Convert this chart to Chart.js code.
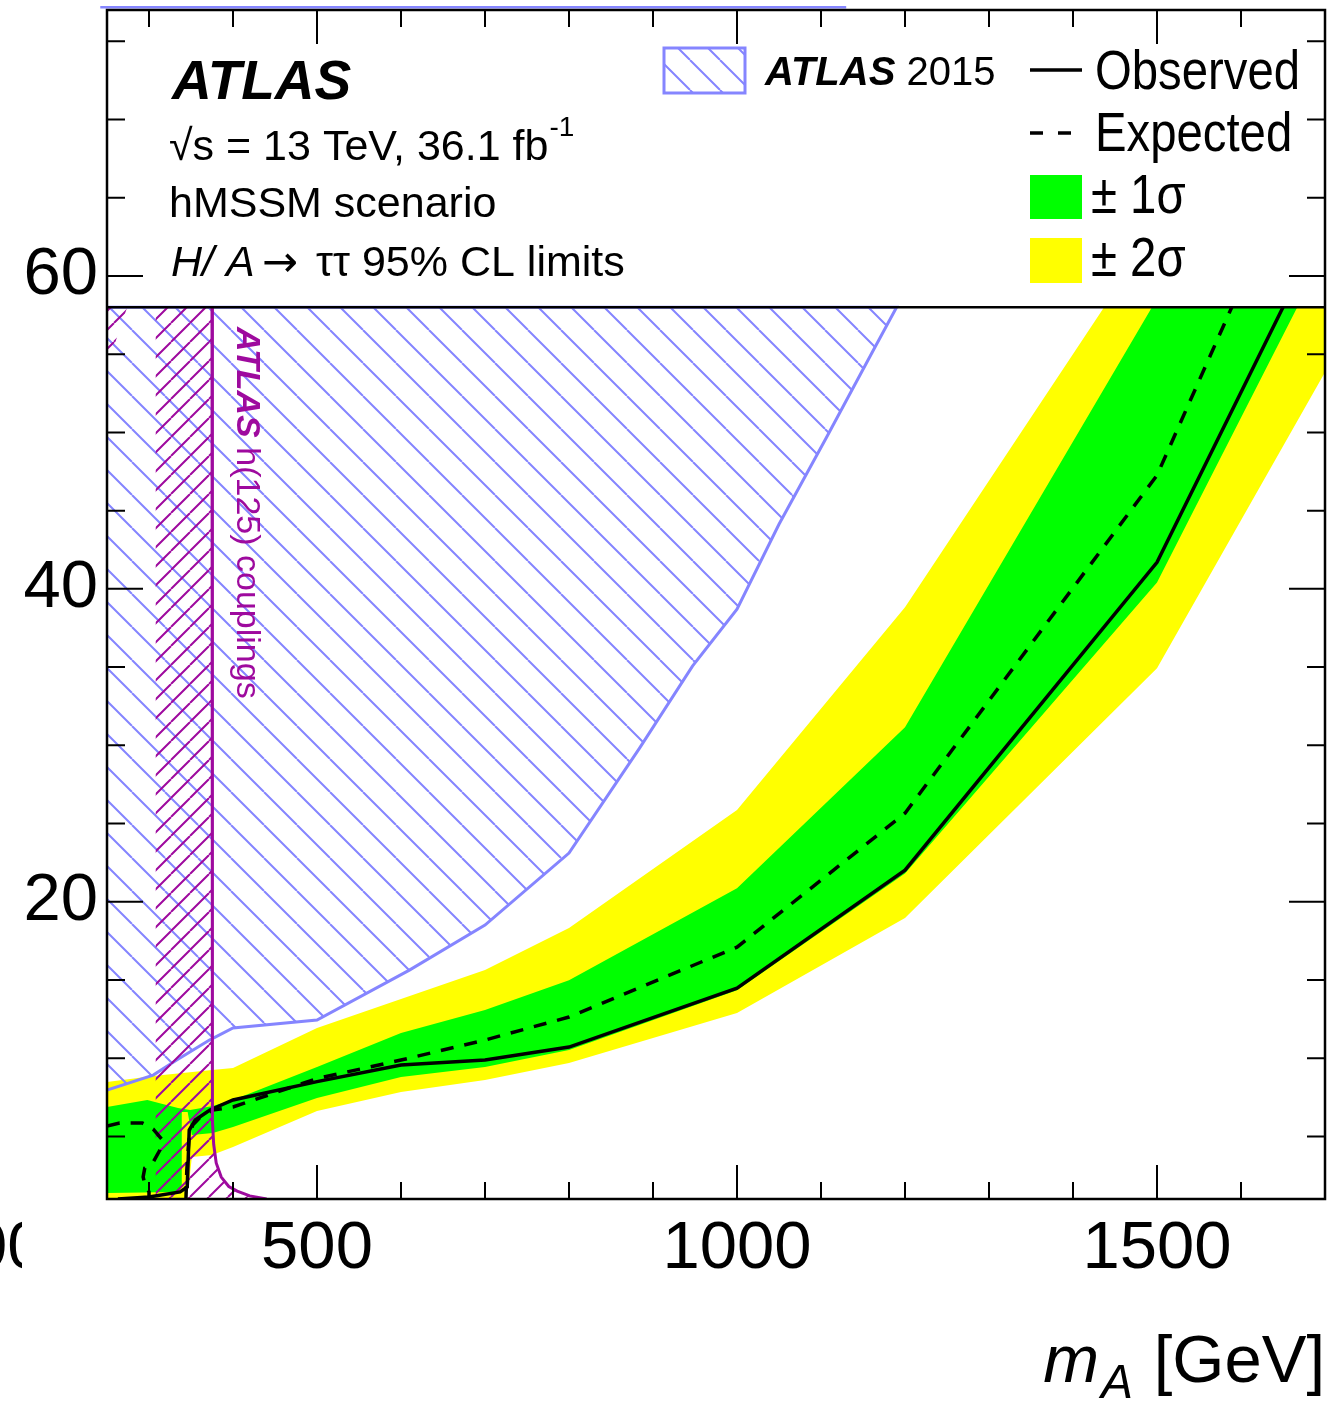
<!DOCTYPE html>
<html>
<head>
<meta charset="utf-8">
<script src="https://cdn.jsdelivr.net/npm/chart.js@4.4.1/dist/chart.umd.min.js"></script>
<style>
  html, body { margin: 0; padding: 0; background: #fff; }
  canvas { display: block; }
</style>
</head>
<body>
<canvas id="myChart" width="1332" height="1401"></canvas>
<script>
// axis ticks
var xTickValues = [300, 400, 500, 600, 700, 800, 900, 1000, 1100, 1200, 1300, 1400, 1500, 1600, 1700];
var xMajor = [500, 1000, 1500];
var yTickValues = [5, 10, 15, 20, 25, 30, 35, 40, 45, 50, 55, 60, 65, 70, 75];
var yMajor = [20, 40, 60];

// observed limit (mA, tan beta)
var observedMass = [263, 300, 337, 345.5, 347.9, 355, 372.5, 400, 500, 600, 700, 800, 1000, 1200, 1500, 1650];
var observedTanb = [1.0, 1.13, 1.45, 1.77, 5.41, 6.05, 6.69, 7.33, 8.5, 9.56, 9.88, 10.71, 14.48, 22.02, 41.7, 58];

// expected limit, low-mass island and main contour
var expectedLowMass = [250, 265, 292, 305, 315, 313, 305, 295, 293, 295, 300, 300];
var expectedLowTanb = [5.66, 5.86, 5.86, 5.47, 4.83, 4.13, 3.36, 2.98, 2.41, 1.96, 1.45, 1.0];
var expectedMass = [344, 345, 347.5, 352, 360, 376, 400, 500, 600, 700, 800, 1000, 1200, 1500, 1589];
var expectedTanb = [1.0, 2.85, 4.77, 5.73, 6.18, 6.69, 6.88, 8.7, 9.88, 11.16, 12.63, 17.1, 25.66, 47.26, 58];

// +-1 sigma band outline
var oneSigmaMass = [250, 298, 334.5, 349, 376, 400, 500, 600, 700, 800, 1000, 1200, 1494, 1667,
                    1500, 1200, 1000, 800, 700, 600, 500, 400, 376, 351, 346, 339, 339, 334.5, 250];
var oneSigmaTanb = [6.88, 7.33, 6.81, 6.69, 6.94, 7.33, 9.43, 11.61, 13.08, 14.99, 20.87, 31.16, 58, 58,
                    40.4, 21.8, 14.35, 10.52, 9.43, 8.8, 7.45, 5.6, 5.22, 5.09, 6.56, 6.56, 1.89, 1.45, 1.38];

// +-2 sigma band outline
var twoSigmaMass = [250, 305, 375, 400, 500, 600, 700, 800, 1000, 1200, 1437, 1700,
                    1700, 1500, 1200, 1000, 800, 700, 600, 500, 400, 375, 351, 347.5, 344, 250];
var twoSigmaTanb = [8.48, 8.86, 9.24, 9.37, 11.93, 13.78, 15.63, 18.32, 25.86, 38.83, 58, 58,
                    53.84, 34.93, 18.96, 12.89, 9.69, 8.6, 7.84, 6.62, 4.32, 3.81, 3.68, 1.9, 1.0, 1.0];

// ATLAS 2015 excluded region
var run2015Mass = [250, 305, 333, 372, 400, 500, 610, 700, 800, 884, 947, 1000, 1050, 1106, 1161, 1190, 250];
var run2015Tanb = [7.96, 8.92, 9.88, 11.16, 11.93, 12.44, 15.63, 18.51, 23.11, 29.82, 35.06, 38.7, 44.13, 49.63, 55.12, 58, 58];
var run2015TopMass = [242, 1130];
var run2015TopTanb = [77.17, 77.17];

// h(125) couplings excluded region
var hcoupMass = [308, 375, 375.5, 377, 380, 386, 395, 405, 420, 440, 308];
var hcoupTanb = [58, 58, 6, 4.5, 3.3, 2.4, 1.8, 1.5, 1.2, 1.0, 1.0];
var hcoupCornerMass = [250, 274, 250];
var hcoupCornerTanb = [58, 58, 54.2];
var hcoupLineMass = [375, 375.5, 377, 380, 386, 395, 405, 420, 440];
var hcoupLineTanb = [58, 6, 4.5, 3.3, 2.4, 1.8, 1.5, 1.2, 1.0];

var FONT = "'Liberation Sans', Arial, sans-serif";
var BLUE = "#8585ff";
var PURPLE = "#9e0a9e";

function pts(xs, ys) {
  return xs.map(function (x, i) { return { x: x, y: ys[i] }; });
}

// diagonal hatch pattern, back = "\" direction
function hatch(color, size, lw, back) {
  var c = document.createElement("canvas");
  c.width = size;
  c.height = size;
  var g = c.getContext("2d");
  g.strokeStyle = color;
  g.lineWidth = lw;
  g.beginPath();
  for (var k = -1; k <= 1; k++) {
    if (back) {
      g.moveTo(k * size, 0);
      g.lineTo(k * size + size, size);
    } else {
      g.moveTo(k * size, size);
      g.lineTo(k * size + size, 0);
    }
  }
  g.stroke();
  return document.getElementById("myChart").getContext("2d").createPattern(c, "repeat");
}

var blueHatch = hatch(BLUE, 33, 2, true);
var purpleHatch = hatch(PURPLE, 19, 2, false);

function shape(xs, ys, fillStyle, order) {
  return {
    data: pts(xs, ys),
    backgroundColor: fillStyle,
    borderWidth: 0,
    fill: "shape",
    pointRadius: 0,
    tension: 0,
    order: order,
  };
}

function curve(xs, ys, color, width, dash, order, clip) {
  var d = {
    data: pts(xs, ys),
    borderColor: color,
    borderWidth: width,
    borderDash: dash || [],
    fill: false,
    pointRadius: 0,
    tension: 0,
    order: order,
  };
  if (clip === false) d.clip = false;
  return d;
}

var run2015Shape = shape(run2015Mass, run2015Tanb, blueHatch, 5);
run2015Shape.borderColor = BLUE;
run2015Shape.borderWidth = 3;

var decor = {
  id: "decor",
  afterDraw: function (chart) {
    var c = chart.ctx, a = chart.chartArea, xs = chart.scales.x, ys = chart.scales.y;
    var w;
    c.save();
    c.strokeStyle = "#000";
    c.fillStyle = "#000";

    // separator between limits and legend area
    var ySep = ys.getPixelForValue(58);
    c.lineWidth = 2.5;
    c.beginPath();
    c.moveTo(a.left, ySep);
    c.lineTo(a.right, ySep);
    c.stroke();
    c.strokeRect(a.left, a.top, a.right - a.left, a.bottom - a.top);

    // inward ticks on all four sides
    c.lineWidth = 2;
    c.beginPath();
    xTickValues.forEach(function (v) {
      var px = xs.getPixelForValue(v);
      var len = xMajor.indexOf(v) >= 0 ? 34 : 17;
      c.moveTo(px, a.bottom);
      c.lineTo(px, a.bottom - len);
      c.moveTo(px, a.top);
      c.lineTo(px, a.top + len);
    });
    yTickValues.forEach(function (v) {
      var py = ys.getPixelForValue(v);
      var len = yMajor.indexOf(v) >= 0 ? 36 : 18;
      c.moveTo(a.left, py);
      c.lineTo(a.left + len, py);
      c.moveTo(a.right, py);
      c.lineTo(a.right - len, py);
    });
    c.stroke();

    c.textBaseline = "alphabetic";
    c.textAlign = "left";

    // cut-off tick label at the left border
    c.save();
    c.beginPath();
    c.rect(0, 1200, 22, 100);
    c.clip();
    c.font = "67px " + FONT;
    c.fillText("00", -30, 1268);
    c.restore();

    // axis title m_A [GeV]
    c.font = "67px " + FONT;
    var wG = c.measureText(" [GeV]").width;
    c.fillText(" [GeV]", a.right - wG, 1382);
    c.font = "italic 48px " + FONT;
    var wA = c.measureText("A").width;
    c.fillText("A", a.right - wG - wA - 2, 1398);
    c.font = "italic 67px " + FONT;
    var wm = c.measureText("m").width;
    c.fillText("m", a.right - wG - wA - wm - 4, 1382);

    // labels
    c.font = "italic bold 55px " + FONT;
    c.fillText("ATLAS", 172, 99);
    c.font = "43px " + FONT;
    var s = "\u221As = 13 TeV, 36.1 fb";
    c.fillText(s, 169, 160);
    w = c.measureText(s).width;
    c.font = "28px " + FONT;
    c.fillText("-1", 169 + w + 1, 136);
    c.font = "43px " + FONT;
    c.fillText("hMSSM scenario", 169, 217);
    c.font = "italic 43px " + FONT;
    c.fillText("H/ A", 171, 276);
    c.font = "43px 'DejaVu Sans'";
    c.fillText("\u2192", 262, 276);
    c.font = "43px " + FONT;
    c.fillText("\u03C4\u03C4 95% CL limits", 316, 276);

    // legend: ATLAS 2015
    c.fillStyle = hatch(BLUE, 30, 2, true);
    c.fillRect(664, 48, 81, 45);
    c.strokeStyle = BLUE;
    c.lineWidth = 3;
    c.strokeRect(664, 48, 81, 45);
    c.fillStyle = "#000";
    c.font = "italic bold 40px " + FONT;
    c.fillText("ATLAS", 765, 85);
    w = c.measureText("ATLAS").width;
    c.font = "40px " + FONT;
    c.fillText(" 2015", 765 + w, 85);

    // legend: observed / expected / bands
    c.strokeStyle = "#000";
    c.lineWidth = 3.5;
    c.beginPath();
    c.moveTo(1030, 70);
    c.lineTo(1082, 70);
    c.moveTo(1030, 133);
    c.lineTo(1043, 133);
    c.moveTo(1058, 133);
    c.lineTo(1071, 133);
    c.stroke();
    c.fillStyle = "#00ff00";
    c.fillRect(1030, 175, 52, 44);
    c.fillStyle = "#ffff00";
    c.fillRect(1030, 238, 52, 45);
    c.fillStyle = "#000";
    var legendText = [["Observed", 89], ["Expected", 151], ["\u00B1 1\u03C3", 213], ["\u00B1 2\u03C3", 276]];
    legendText.forEach(function (t, i) {
      c.save();
      c.translate(i < 2 ? 1095 : 1091, t[1]);
      c.scale(0.86, 1);
      c.font = "55px " + FONT;
      c.fillText(t[0], 0, 0);
      c.restore();
    });

    // rotated label of the h(125) couplings region
    c.save();
    c.translate(237, 327);
    c.rotate(Math.PI / 2);
    c.fillStyle = PURPLE;
    c.font = "italic bold 34px " + FONT;
    c.fillText("ATLAS", 0, 0);
    w = c.measureText("ATLAS").width;
    c.font = "34px " + FONT;
    c.fillText(" h(125) couplings", w, 0);
    c.restore();

    c.restore();
  },
};

Chart.defaults.font.family = FONT;

var ctx = document.getElementById("myChart").getContext("2d");
var myChart = new Chart(ctx, {
  type: "line",
  data: {
    datasets: [
      shape(twoSigmaMass, twoSigmaTanb, "#ffff00", 7),
      shape(oneSigmaMass, oneSigmaTanb, "#00ff00", 6),
      run2015Shape,
      curve(run2015TopMass, run2015TopTanb, BLUE, 2.5, null, 5, false),
      shape(hcoupMass, hcoupTanb, purpleHatch, 4),
      shape(hcoupCornerMass, hcoupCornerTanb, purpleHatch, 4),
      curve(expectedLowMass, expectedLowTanb, "#000", 3.5, [13, 11], 2),
      curve(expectedMass, expectedTanb, "#000", 3.5, [13, 11], 2),
      curve(observedMass, observedTanb, "#000", 3.5, null, 1),
      curve(hcoupLineMass, hcoupLineTanb, PURPLE, 3, null, 0),
    ],
  },
  options: {
    responsive: false,
    animation: false,
    devicePixelRatio: 1,
    layout: { padding: { top: 10, right: 7, left: 0, bottom: 0 } },
    plugins: {
      legend: { display: false },
      tooltip: { enabled: false },
    },
    scales: {
      x: {
        type: "linear",
        min: 250,
        max: 1700,
        afterBuildTicks: function (s) {
          s.ticks = xTickValues.map(function (v) { return { value: v }; });
        },
        afterFit: function (s) {
          s.height = 202;
          s.paddingLeft = 0;
          s.paddingRight = 0;
        },
        ticks: {
          autoSkip: false,
          maxRotation: 0,
          padding: 10,
          color: "#000",
          font: { size: 67 },
          callback: function (v) { return xMajor.indexOf(v) >= 0 ? String(v) : ""; },
        },
        grid: { display: false, drawTicks: false },
        border: { display: false },
      },
      y: {
        type: "linear",
        min: 1,
        max: 77,
        afterBuildTicks: function (s) {
          s.ticks = yTickValues.map(function (v) { return { value: v }; });
        },
        afterFit: function (s) {
          s.width = 107;
          s.paddingTop = 0;
          s.paddingBottom = 0;
        },
        ticks: {
          autoSkip: false,
          padding: 9,
          color: "#000",
          font: { size: 67 },
          callback: function (v) { return yMajor.indexOf(v) >= 0 ? String(v) : ""; },
        },
        grid: { display: false, drawTicks: false },
        border: { display: false },
      },
    },
  },
  plugins: [decor],
});
</script>
</body>
</html>
